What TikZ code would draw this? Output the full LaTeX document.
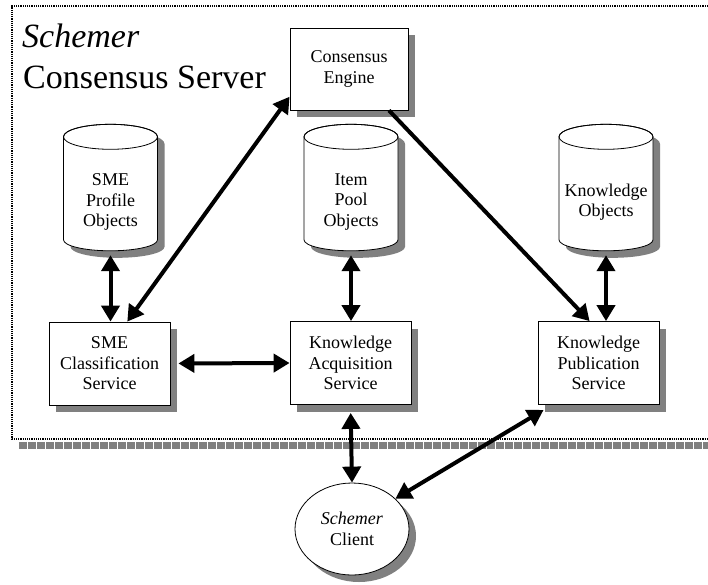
\documentclass[tikz,border=0pt]{standalone}
\usepackage{fontspec}
\setmainfont{Liberation Serif}
\usetikzlibrary{arrows.meta,shapes.geometric,shadows,calc}
\begin{document}
\begin{tikzpicture}[x=1pt,y=-1pt,
  lw/.style={line width=0.8pt},
  shadowbox/.style={lw, draw, fill=white, rectangle, minimum width=121pt, minimum height=83pt,
     inner sep=0pt, align=center, font=\fontsize{18}{20.5}\selectfont,
     drop shadow={shadow xshift=7pt, shadow yshift=-7pt, fill=black!50, opacity=1}},
  cylshape/.style={rectangle, minimum width=94pt, minimum height=114pt, inner sep=0pt},
  cyltext/.style={align=center, inner sep=0pt, font=\fontsize{18}{20.5}\selectfont},
  biarrow/.style={line width=4pt, {Triangle[length=16pt,width=18pt]}-{Triangle[length=16pt,width=18pt]}},
  onearrow/.style={line width=4pt, -{Triangle[length=16pt,width=18pt]}},
  dbcyl/.pic={
    \fill[black!50] (-40,7) -- (-40,110) arc(180:360:47pt and 11pt) -- (54,7) arc(0:180:47pt and 12.5pt) -- cycle;
    \filldraw[lw, fill=white] (-47,0) -- (-47,103) arc(180:360:47pt and 11pt) -- (47,0) arc(0:180:47pt and 12.5pt) -- cycle;
    \draw[lw] (0,0) ellipse (47pt and 12.5pt);
  }]
\useasboundingbox (0,0) rectangle (708,584);

% server boundary
\draw[black!50, line width=7pt, dash pattern=on 8pt off 1pt] (19,445) -- (708,445);
\draw[line width=2pt, dash pattern=on 1.2pt off 1pt] (708,6) -- (12,6) -- (12,439) -- (708,439);

% title
\node[anchor=base west, inner sep=0pt, font=\fontsize{34}{38}\selectfont\itshape] (t1) at (22,47) {Schemer};
\node[anchor=base west, inner sep=0pt, font=\fontsize{34}{38}\selectfont] (t2) at (23,88) {Consensus Server};

% boxes
\node[shadowbox, minimum width=118pt, minimum height=82pt] (engine) at (349,69) {Consensus\\Engine};
\node[shadowbox] (smecls) at (109.5,363.5) {SME\\Classification\\Service};
\node[shadowbox] (kas) at (350.5,363) {Knowledge\\Acquisition\\Service};
\node[shadowbox] (kps) at (598.5,363) {Knowledge\\Publication\\Service};

% cylinders
\node[cylshape] (smeobj) at (110.5,194) {};
\node[cylshape] (itemobj) at (351,194) {};
\node[cylshape] (kobj) at (606,194) {};
\pic at (smeobj.north) {dbcyl};
\pic at (itemobj.north) {dbcyl};
\pic at (kobj.north) {dbcyl};
\node[cyltext] (smeobjt) at (110.5,202) {SME\\Profile\\Objects};
\node[cyltext] (itemobjt) at (351,202) {Item\\Pool\\Objects};
\node[cyltext] (kobjt) at (606,202) {Knowledge\\Objects};

% client
\node[ellipse, lw, draw, fill=white, minimum width=114pt, minimum height=92pt, inner sep=0pt,
      align=center, font=\fontsize{18}{20.5}\selectfont,
      drop shadow={shadow xshift=7pt, shadow yshift=-7pt, fill=black!50, opacity=1}]
      (client) at (352,529) {\textit{Schemer}\\Client};

% connectors
\draw[biarrow, shorten <=4pt] (smeobj.south) -- (smeobj.south |- smecls.north);
\draw[biarrow, shorten <=4pt] (itemobj.south) -- (itemobj.south |- kas.north);
\draw[biarrow, shorten <=4pt] (kobj.south) -- (kobj.south |- kps.north);
\draw[biarrow] (engine.205) -- (smecls.67);
\draw[onearrow] (engine.314) -- (kps.102);
\draw[biarrow, shorten <=8pt] (smecls.east) -- (kas.west);
\draw[biarrow, shorten <=8pt] (kas.south) -- (client.north);
\draw[biarrow] ($(kps.south west)+(6,5)$) -- (client.35);
\end{tikzpicture}
\end{document}
